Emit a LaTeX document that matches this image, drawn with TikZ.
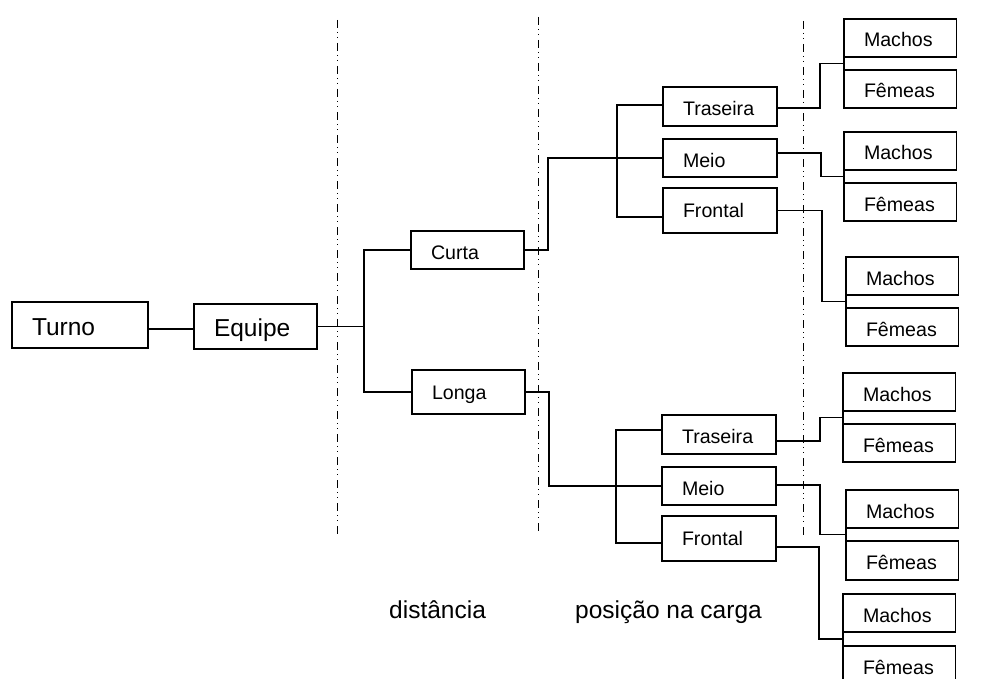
\documentclass[tikz,border=0pt]{standalone}
\usepackage{fontspec}
\setmainfont{Liberation Sans}
\usetikzlibrary{calc}
\newcommand\bxfont{\fontsize{19.6bp}{23bp}\selectfont}
\newcommand\bgfont{\fontsize{24.5bp}{29bp}\selectfont}

\begin{document}
\begin{tikzpicture}[x=1bp,y=-1bp,
  box/.style={draw, line width=1.8bp, anchor=north west, inner xsep=20bp,
    inner ysep=0pt, outer sep=0pt, align=left, text depth=0pt,
    font=\bxfont, minimum height=38bp, text height=18bp},
  bigbox/.style={box, font=\bgfont},
  lvlbox/.style={box, text width=73bp},
  posbox/.style={box, text width=74bp},
  leafbox/.style={box, text width=72.5bp},
  wire/.style={line width=1.8bp},
  guide/.style={line width=0.9bp,
    dash pattern=on 8bp off 4bp on 1bp off 4bp on 1bp off 5bp},
  capt/.style={anchor=base west, inner sep=0pt, font=\bgfont}
]
\useasboundingbox (0,0) rectangle (984,679);

% vertical separators between the levels
\draw[guide] (337,20) -- (337,538);
\draw[guide] (538,17) -- (538,532);
\draw[guide] (803,21) -- (803,535);

% root and first level
\node[bigbox, text width=96bp, minimum height=46bp, text height=21.4bp] (turno) at (12,302) {Turno};
\node[bigbox, text width=83bp, minimum height=45bp, text height=20.4bp] (equipe) at (194,304) {Equipe};

% distance
\node[lvlbox] (curta) at (411,231) {Curta};
\node[lvlbox, minimum height=44bp, text height=14bp] (longa) at (412,370) {Longa};

% position on the load
\node[posbox, minimum height=39bp, text height=19bp] (tr1) at (663,87) {Traseira};
\node[posbox] (me1) at (663,139) {Meio};
\node[posbox, minimum height=45bp, text height=13bp] (fr1) at (663,188) {Frontal};
\node[posbox, minimum height=39bp, text height=17bp] (tr2) at (662,415) {Traseira};
\node[posbox] (me2) at (662,467) {Meio};
\node[posbox, minimum height=45bp, text height=13bp] (fr2) at (662,516) {Frontal};

% sex
\node[leafbox] (m1) at (844,19) {Machos};
\node[leafbox] (f1) at (844,70) {Fêmeas};
\node[leafbox] (m2) at (844,132) {Machos};
\node[leafbox] (f2) at (844,183) {Fêmeas};
\node[leafbox] (m3) at (846,257) {Machos};
\node[leafbox] (f3) at (846,308) {Fêmeas};
\node[leafbox] (m4) at (843,373) {Machos};
\node[leafbox] (f4) at (843,424) {Fêmeas};
\node[leafbox] (m5) at (846,490) {Machos};
\node[leafbox, minimum height=39bp] (f5) at (846,541) {Fêmeas};
\node[leafbox] (m6) at (843,594) {Machos};
\node[leafbox] (f6) at (843,646) {Fêmeas};

% level captions
\node[capt] (capd) at (389,618) {distância};
\node[capt] (capp) at (575,618) {posição na carga};

% Turno -- Equipe
\coordinate (tq) at ($(turno.east)+(0,4)$);
\draw[wire] (tq) -- (tq -| equipe.west);

% Equipe -- distance
\coordinate (j1) at ($(equipe.east)+(47,0)$);
\draw[wire] (equipe.east) -- (j1);
\draw[wire] (curta.west) -| (j1) |- (longa.west);

% distance -- position
\draw[wire] (curta.east) -- ++(24,0) |- (me1.west);
\coordinate (ta) at ($(tr1.west)+(-46,-1.5)$);
\coordinate (tb) at ($(fr1.west)+(-46,6.5)$);
\draw[wire] (tr1.west |- ta) -- (ta) -- (tb) -- (fr1.west |- tb);

\draw[wire] (longa.east) -- ++(24,0) |- (me2.west);
\coordinate (tc) at ($(tr2.west)+(-46,-4.5)$);
\coordinate (td) at ($(fr2.west)+(-46,4.5)$);
\draw[wire] (tr2.west |- tc) -- (tc) -- (td) -- (fr2.west |- td);

% position -- sex
\foreach \i in {1,...,6}{
  \coordinate (g\i) at ($(m\i.south west)!0.5!(f\i.north west)$);
  \draw[wire] (m\i.south west) -- (f\i.north west);
}
\draw[wire] ($(tr1.east)+(0,1.5)$) -- ++(43,0) |- (g1);
\draw[wire] ($(me1.east)+(0,-5)$) -- ++(44,0) |- (g2);
\draw[wire] (fr1.east) -- ++(45,0) |- (g3);
\draw[wire] ($(tr2.east)+(0,6.5)$) -- ++(44,0) |- (g4);
\draw[wire] ($(me2.east)+(0,-1)$) -- ++(44,0) |- (g5);
\draw[wire] ($(fr2.east)+(0,8.5)$) -- ++(43,0) |- (g6);
\end{tikzpicture}
\end{document}
